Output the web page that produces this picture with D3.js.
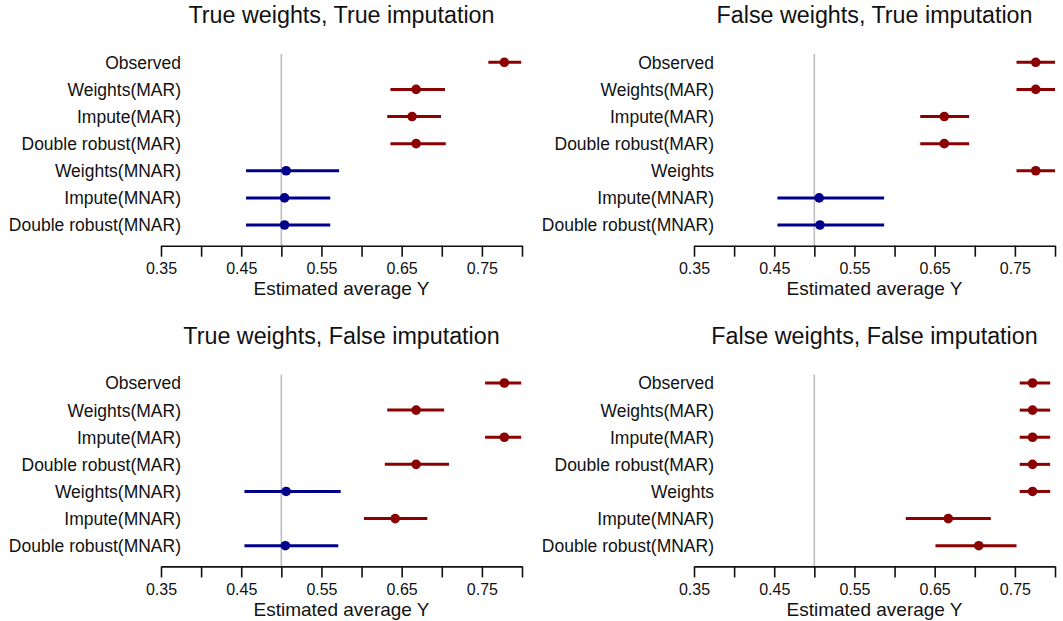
<!DOCTYPE html>
<html>
<head>
<meta charset="utf-8">
<script src="https://cdn.jsdelivr.net/npm/d3@7"></script>
<style>
  html, body { margin: 0; padding: 0; background: #fff; }
  svg { display: block; font-family: "Liberation Sans", Arial, sans-serif; }
</style>
</head>
<body>
<svg id="chart" width="1063" height="621"></svg>
<script>
// ---------- data ----------
const titles = [
  "True weights, True imputation",
  "False weights, True imputation",
  "True weights, False imputation",
  "False weights, False imputation"
];
const rowsA = ["Observed", "Weights(MAR)", "Impute(MAR)", "Double robust(MAR)", "Weights(MNAR)", "Impute(MNAR)", "Double robust(MNAR)"];
const rowsB = ["Observed", "Weights(MAR)", "Impute(MAR)", "Double robust(MAR)", "Weights", "Impute(MNAR)", "Double robust(MNAR)"];

const estTT = [0.778, 0.668, 0.663, 0.668, 0.506, 0.504, 0.504];
const loTT  = [0.758, 0.636, 0.632, 0.636, 0.456, 0.456, 0.456];
const hiTT  = [0.799, 0.704, 0.699, 0.705, 0.572, 0.561, 0.561];
const grpTT = ["MAR", "MAR", "MAR", "MAR", "MNAR", "MNAR", "MNAR"];

const estFT = [0.776, 0.776, 0.662, 0.662, 0.776, 0.506, 0.507];
const loFT  = [0.752, 0.752, 0.632, 0.632, 0.752, 0.454, 0.454];
const hiFT  = [0.800, 0.800, 0.693, 0.693, 0.800, 0.587, 0.587];
const grpFT = ["MAR", "MAR", "MAR", "MAR", "MAR", "MNAR", "MNAR"];

const estTF = [0.778, 0.668, 0.778, 0.668, 0.506, 0.642, 0.505];
const loTF  = [0.754, 0.632, 0.754, 0.629, 0.454, 0.603, 0.454];
const hiTF  = [0.799, 0.703, 0.799, 0.709, 0.574, 0.682, 0.571];
const grpTF = ["MAR", "MAR", "MAR", "MAR", "MNAR", "MAR", "MNAR"];

const estFF = [0.772, 0.772, 0.772, 0.772, 0.772, 0.667, 0.705];
const loFF  = [0.756, 0.756, 0.756, 0.756, 0.756, 0.614, 0.651];
const hiFF  = [0.794, 0.794, 0.794, 0.794, 0.794, 0.720, 0.752];
const grpFF = ["MAR", "MAR", "MAR", "MAR", "MAR", "MAR", "MAR"];

const tickVals = [0.35, 0.40, 0.45, 0.50, 0.55, 0.60, 0.65, 0.70, 0.75, 0.80];
const tickLabels = ["0.35", "0.45", "0.55", "0.65", "0.75"];
const xDomain = [0.35, 0.80];
const refValue = 0.5;
const xTitle = "Estimated average Y";

// ---------- layout ----------
const colors = { MAR: "#8b0000", MNAR: "#00008b" };
const panels = [
  { title: titles[0], rows: rowsA, est: estTT, lo: loTT, hi: hiTT, grp: grpTT, dx: 0,   dy: 0 },
  { title: titles[1], rows: rowsB, est: estFT, lo: loFT, hi: hiFT, grp: grpFT, dx: 533, dy: 0 },
  { title: titles[2], rows: rowsA, est: estTF, lo: loTF, hi: hiTF, grp: grpTF, dx: 0,   dy: 320.7 },
  { title: titles[3], rows: rowsB, est: estFF, lo: loFF, hi: hiFF, grp: grpFF, dx: 533, dy: 320.7 }
];

const svg = d3.select("#chart");
const plotLeft = 161, plotRight = 522;
const rowTop = 62.3, rowBottom = 225;
const axisY = 245.7;
const refTop = 54;

panels.forEach(p => {
  const g = svg.append("g").attr("transform", `translate(${p.dx},${p.dy})`);
  const x = d3.scaleLinear().domain(xDomain).range([plotLeft, plotRight]);
  const y = d3.scalePoint().domain(p.rows).range([rowTop, rowBottom]);

  // title
  g.append("text")
    .attr("x", (plotLeft + plotRight) / 2)
    .attr("y", 23)
    .attr("text-anchor", "middle")
    .attr("font-size", 23.3)
    .attr("fill", "#111")
    .text(p.title);

  // reference line
  g.append("line")
    .attr("x1", x(refValue)).attr("x2", x(refValue))
    .attr("y1", refTop).attr("y2", axisY)
    .attr("stroke", "#bdbdbd").attr("stroke-width", 1.6);

  // axis
  const axis = d3.axisBottom(x)
    .tickValues(tickVals)
    .tickSize(11)
    .tickSizeOuter(0)
    .tickPadding(6)
    .tickFormat(d => {
      const s = d3.format(".2f")(d);
      return tickLabels.includes(s) ? s : "";
    });
  const ax = g.append("g").attr("transform", `translate(0,${axisY})`).call(axis);
  ax.select(".domain").attr("stroke", "#111").attr("stroke-width", 1.6);
  ax.selectAll(".tick line").attr("stroke", "#111").attr("stroke-width", 1.6);
  ax.selectAll(".tick text")
    .attr("font-size", 16)
    .attr("fill", "#111")
    .attr("font-family", "Liberation Sans, Arial, sans-serif");

  g.append("text")
    .attr("x", (plotLeft + plotRight) / 2)
    .attr("y", 295)
    .attr("text-anchor", "middle")
    .attr("font-size", 19)
    .attr("fill", "#111")
    .text(xTitle);

  // row labels
  g.selectAll("text.lab").data(p.rows).enter().append("text")
    .attr("class", "lab")
    .attr("x", 181)
    .attr("y", d => y(d))
    .attr("dy", "0.37em")
    .attr("text-anchor", "end")
    .attr("font-size", 17.5)
    .attr("fill", "#111")
    .text(d => d);

  const data = p.rows.map((r, i) => ({ r, est: p.est[i], lo: p.lo[i], hi: p.hi[i], grp: p.grp[i] }));

  g.selectAll("line.ci").data(data).enter().append("line")
    .attr("class", "ci")
    .attr("x1", d => x(d.lo)).attr("x2", d => x(d.hi))
    .attr("y1", d => y(d.r)).attr("y2", d => y(d.r))
    .attr("stroke", d => colors[d.grp])
    .attr("stroke-width", 3);

  g.selectAll("circle.pt").data(data).enter().append("circle")
    .attr("class", "pt")
    .attr("cx", d => x(d.est))
    .attr("cy", d => y(d.r))
    .attr("r", 4.8)
    .attr("fill", d => colors[d.grp]);
});
</script>
</body>
</html>
